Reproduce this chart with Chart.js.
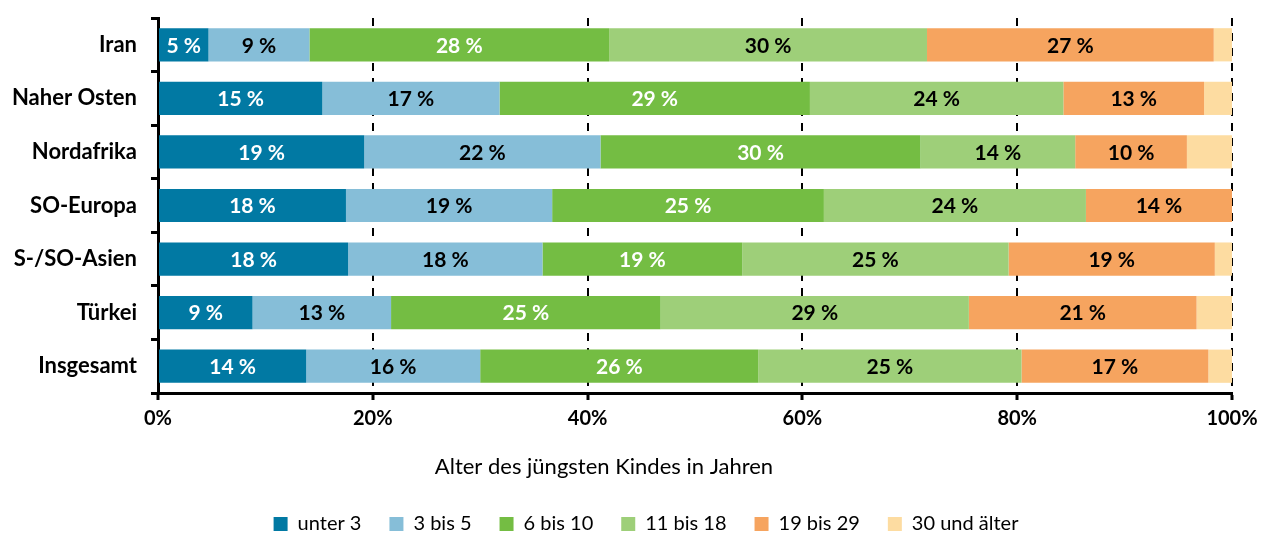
<!DOCTYPE html>
<html lang="de">
<head>
<meta charset="utf-8">
<script src="https://cdn.jsdelivr.net/npm/chart.js@4"></script>
<style>
  html, body { margin: 0; padding: 0; background: #fff; }
  #wrap { width: 1262px; height: 534px; }
</style>
</head>
<body>
<div id="wrap"><canvas id="chart"></canvas></div>
<script>
// ===================== Daten =====================
const regionen = ["Iran", "Naher Osten", "Nordafrika", "SO-Europa", "S-/SO-Asien", "Türkei", "Insgesamt"];
const altersgruppen = ["unter 3", "3 bis 5", "6 bis 10", "11 bis 18", "19 bis 29", "30 und älter"];

// Anteile in % je Region (Reihenfolge wie regionen)
const unter3    = [4.7, 15.3, 19.2, 17.5, 17.7, 8.8, 13.8];
const bis5      = [9.4, 16.5, 22.0, 19.2, 18.1, 12.9, 16.2];
const bis10     = [27.9, 28.9, 29.8, 25.3, 18.6, 25.1, 25.9];
const bis18     = [29.6, 23.6, 14.4, 24.4, 24.8, 28.7, 24.5];
const bis29     = [26.7, 13.1, 10.4, 13.6, 19.2, 21.2, 17.4];
const ab30      = [1.7, 2.6, 4.2, 0.0, 1.6, 3.3, 2.2];

const xTicks = [0, 20, 40, 60, 80, 100];

const farben = ["#0179a3", "#86bed8", "#74bd43", "#9ecf79", "#f6a45f", "#fddca1"];
const textFarben = ["#fff", "#000", "#fff", "#000", "#000", null]; // null = ohne Beschriftung

const FONT = "Lato, 'Open Sans', 'DejaVu Sans', sans-serif";

// ===================== Plugins =====================
// Werte in die Balken schreiben
const balkenText = {
    id: "balkenText",
    afterDatasetsDraw(chart) {
        const ctx = chart.ctx;
        ctx.save();
        ctx.font = "bold 21px " + FONT;
        ctx.textAlign = "center";
        ctx.textBaseline = "middle";
        chart.data.datasets.forEach((ds, di) => {
            if (!textFarben[di]) return;
            const meta = chart.getDatasetMeta(di);
            meta.data.forEach((bar, i) => {
                const v = ds.data[i];
                if (!v) return;
                const x = (bar.x + bar.base) / 2;
                ctx.fillStyle = textFarben[di];
                ctx.fillText(Math.round(v) + " %", x, bar.y + 1);
            });
        });
        ctx.restore();
    }
};

// Achsentitel (im Original nicht mittig zur Zeichenfläche) + Legende etwas nach rechts
const achsenTitel = {
    id: "achsenTitel",
    afterLayout(chart) {
        chart.legend.left += 30;
        chart.legend.right += 30;
    },
    afterDraw(chart) {
        const ctx = chart.ctx;
        ctx.save();
        ctx.font = "22px " + FONT;
        ctx.fillStyle = "#000";
        ctx.textAlign = "center";
        ctx.textBaseline = "middle";
        ctx.fillText("Alter des jüngsten Kindes in Jahren", 604, 467);
        ctx.restore();
    }
};

// ===================== Diagramm =====================
const reihen = [unter3, bis5, bis10, bis18, bis29, ab30];

new Chart(document.getElementById("chart"), {
    type: "bar",
    data: {
        labels: regionen,
        datasets: reihen.map((werte, i) => ({
            label: altersgruppen[i],
            data: werte,
            backgroundColor: farben[i],
            borderWidth: 0,
            categoryPercentage: 1,
            barPercentage: 0.62
        }))
    },
    options: {
        indexAxis: "y",
        responsive: true,
        maintainAspectRatio: false,
        animation: false,
        layout: { padding: { top: 18, left: 0, right: 30, bottom: -10 } },
        plugins: {
            tooltip: { enabled: false },
            legend: {
                position: "bottom",
                labels: {
                    boxWidth: 14,
                    boxHeight: 14,
                    padding: 28,
                    color: "#000",
                    font: { family: FONT, size: 20 }
                }
            }
        },
        scales: {
            x: {
                stacked: true,
                min: 0,
                max: 100,
                afterBuildTicks: (scale) => { scale.ticks = xTicks.map(v => ({ value: v })); },
                afterFit: (scale) => {
                    scale.height = 93;
                    scale.paddingLeft = 0;
                    scale.paddingRight = 0;
                },
                border: { display: true, color: "#000", width: 3, dash: [8, 7] },
                grid: {
                    color: (c) => (c.index === 0 ? "rgba(0,0,0,0)" : "#000"),
                    lineWidth: 2,
                    tickColor: "#000",
                    tickWidth: 3,
                    tickLength: 7
                },
                ticks: {
                    color: "#000",
                    padding: 7,
                    maxRotation: 0,
                    font: { family: FONT, size: 20, weight: "bold" },
                    callback: (v) => v + "%"
                }
            },
            y: {
                stacked: true,
                afterFit: (scale) => {
                    scale.width = 158;
                    scale.paddingTop = 0;
                    scale.paddingBottom = 0;
                },
                border: { display: true, color: "#000", width: 3 },
                grid: {
                    offset: true,
                    drawOnChartArea: false,
                    tickColor: "#000",
                    tickWidth: 3,
                    tickLength: 7
                },
                ticks: {
                    color: "#000",
                    padding: 14,
                    font: { family: FONT, size: 22, weight: "bold" }
                }
            }
        }
    },
    plugins: [balkenText, achsenTitel]
});
</script>
</body>
</html>
